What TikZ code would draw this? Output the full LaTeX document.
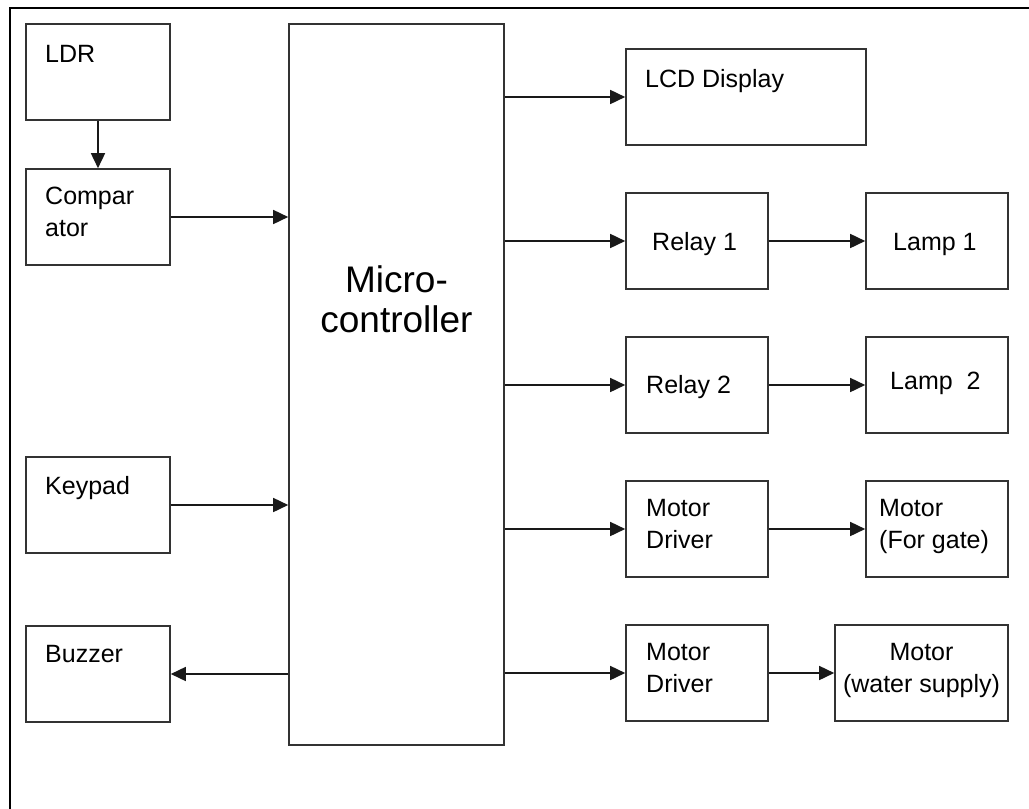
\documentclass[tikz,border=0pt]{standalone}
\usepackage{fontspec}
\setmainfont{Liberation Sans}
\usetikzlibrary{arrows.meta}
\begin{document}
\begin{tikzpicture}[x=1pt,y=-1pt,
  blk/.style={draw=black!80, line width=1.6pt, inner sep=0pt, minimum height=96pt},
  lbl/.style={inner sep=0pt, anchor=base west, align=left, font=\fontsize{25}{32}\selectfont},
  clbl/.style={inner sep=0pt, anchor=base, align=center, font=\fontsize{25}{32}\selectfont},
  arr/.style={draw=black!90, line width=1.6pt, -{Triangle[length=15pt,width=14pt]}},
  frame/.style={draw=black, line width=2pt}]
\useasboundingbox (0,0) rectangle (1029,809);
\draw[frame] (10,809) -- (10,8) -- (1029,8);

% left column
\node[blk, minimum width=144pt] (ldr) at (98,72) {};
\node[blk, minimum width=144pt] (comp) at (98,217) {};
\node[blk, minimum width=144pt] (keypad) at (98,505) {};
\node[blk, minimum width=144pt] (buzzer) at (98,674) {};
% microcontroller
\node[blk, minimum width=215pt, minimum height=721pt] (micro) at (396.5,384.5) {};
% right columns
\node[blk, minimum width=240pt] (lcd) at (746,97) {};
\node[blk, minimum width=142pt] (relay1) at (697,241) {};
\node[blk, minimum width=142pt] (lamp1) at (937,241) {};
\node[blk, minimum width=142pt] (relay2) at (697,385) {};
\node[blk, minimum width=142pt] (lamp2) at (937,385) {};
\node[blk, minimum width=142pt] (drv1) at (697,529) {};
\node[blk, minimum width=142pt] (mgate) at (937,529) {};
\node[blk, minimum width=142pt] (drv2) at (697,673) {};
\node[blk, minimum width=173pt] (mwater) at (921.5,673) {};

% labels (multi-line labels are anchored at their last baseline)
\node[lbl] (ldrT) at (45,62) {LDR};
\node[lbl] (compT) at (45,236) {Compar\\ator};
\node[lbl] (keypadT) at (45,494) {Keypad};
\node[lbl] (buzzerT) at (45,662) {Buzzer};
\node[inner sep=0pt, anchor=base, align=center, font=\fontsize{37}{40}\selectfont] (microT) at (396.5,332) {Micro-\\controller};
\node[lbl] (lcdT) at (645,87) {LCD Display};
\node[lbl] (relay1T) at (652,250) {Relay 1};
\node[lbl] (lamp1T) at (893,250) {Lamp 1};
\node[lbl] (relay2T) at (646,393) {Relay 2};
\node[lbl] (lamp2T) at (890,389) {Lamp\ \ 2};
\node[lbl] (drv1T) at (646,548) {Motor\\Driver};
\node[lbl] (mgateT) at (879,548) {Motor\\(For gate)};
\node[lbl] (drv2T) at (646,692) {Motor\\Driver};
\node[clbl] (mwaterT) at (921.5,692) {Motor\\(water supply)};

% connectors
\draw[arr] (ldr.south) -- (comp.north);
\draw[arr] (comp.east) -- (comp.east -| micro.west);
\draw[arr] (keypad.east) -- (keypad.east -| micro.west);
\draw[arr] (buzzer.east -| micro.west) -- (buzzer.east);
\draw[arr] (micro.east |- lcd.west) -- (lcd.west);
\draw[arr] (micro.east |- relay1.west) -- (relay1.west);
\draw[arr] (micro.east |- relay2.west) -- (relay2.west);
\draw[arr] (micro.east |- drv1.west) -- (drv1.west);
\draw[arr] (micro.east |- drv2.west) -- (drv2.west);
\draw[arr] (relay1.east) -- (lamp1.west);
\draw[arr] (relay2.east) -- (lamp2.west);
\draw[arr] (drv1.east) -- (mgate.west);
\draw[arr] (drv2.east) -- (mwater.west);
\end{tikzpicture}
\end{document}
